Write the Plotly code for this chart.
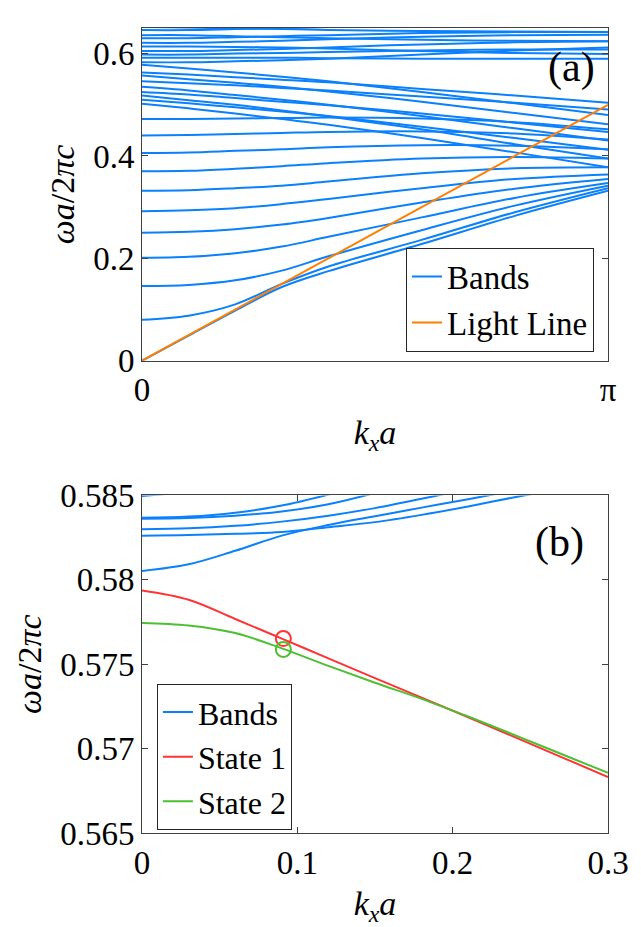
import numpy as np
import plotly.graph_objects as go

PI = np.pi

# ---------------- Panel (a) data ----------------
ka_frac = [0, 0.1, 0.2, 0.3, 0.4, 0.6, 0.8, 1.0]          # k_x a / pi
rising_bands = [
    [0.000, 0.049, 0.098, 0.144, 0.175, 0.228, 0.283, 0.332],
    [0.080, 0.088, 0.110, 0.150, 0.184, 0.236, 0.290, 0.337],
    [0.146, 0.148, 0.157, 0.176, 0.204, 0.255, 0.303, 0.342],
    [0.201, 0.203, 0.210, 0.223, 0.242, 0.280, 0.318, 0.347],
    [0.250, 0.252, 0.257, 0.266, 0.279, 0.309, 0.336, 0.355],
    [0.292, 0.294, 0.298, 0.306, 0.316, 0.337, 0.355, 0.364],
    [0.332, 0.333, 0.337, 0.342, 0.350, 0.366, 0.376, 0.378],
    [0.370, 0.371, 0.375, 0.380, 0.386, 0.395, 0.398, 0.395],
    [0.406, 0.407, 0.410, 0.413, 0.417, 0.421, 0.420, 0.413],
    [0.440, 0.441, 0.443, 0.445, 0.447, 0.448, 0.444, 0.432],
    [0.472, 0.472, 0.473, 0.474, 0.475, 0.473, 0.466, 0.452],
]
descending_bands = [
    [0.578, 0.571, 0.563, 0.555, 0.546, 0.525, 0.503, 0.480],
    [0.563, 0.559, 0.554, 0.549, 0.544, 0.531, 0.518, 0.504],
    [0.557, 0.550, 0.543, 0.535, 0.526, 0.506, 0.484, 0.462],
    [0.546, 0.542, 0.538, 0.533, 0.528, 0.516, 0.504, 0.491],
    [0.535, 0.528, 0.519, 0.510, 0.500, 0.478, 0.454, 0.430],
    [0.525, 0.520, 0.513, 0.506, 0.499, 0.483, 0.465, 0.447],
    [0.518, 0.509, 0.500, 0.489, 0.477, 0.452, 0.423, 0.395],
    [0.510, 0.503, 0.495, 0.487, 0.478, 0.457, 0.435, 0.412],
    [0.502, 0.493, 0.483, 0.472, 0.461, 0.435, 0.407, 0.378],
]
upper_bands = [
    [0.583, 0.583, 0.585, 0.587, 0.590, 0.598, 0.606, 0.612],
    [0.592, 0.592, 0.592, 0.592, 0.591, 0.590, 0.590, 0.590],
    [0.598, 0.598, 0.600, 0.601, 0.603, 0.606, 0.608, 0.608],
    [0.605, 0.605, 0.607, 0.609, 0.612, 0.618, 0.622, 0.624],
    [0.614, 0.614, 0.613, 0.612, 0.610, 0.605, 0.601, 0.599],
    [0.621, 0.621, 0.623, 0.625, 0.628, 0.633, 0.636, 0.637],
    [0.630, 0.630, 0.632, 0.634, 0.636, 0.640, 0.642, 0.642],
    [0.636, 0.636, 0.634, 0.632, 0.630, 0.627, 0.625, 0.624],
    [0.646, 0.646, 0.648, 0.650, 0.652, 0.657, 0.660, 0.662],
    [0.652, 0.651, 0.649, 0.648, 0.646, 0.644, 0.643, 0.642],
]
light_k = [0, PI]
light_w = [0, 0.5]

# ---------------- Panel (b) data ----------------
kb = [0.00, 0.03, 0.06, 0.09, 0.12, 0.15, 0.18, 0.21, 0.24, 0.27, 0.30]
zoom_bands = [
    [0.58497, 0.58520],
    [0.58368, 0.58375, 0.58398, 0.58440, 0.58505, 0.58580],
    [0.58362, 0.58366, 0.58380, 0.58405, 0.58448, 0.58515],
    [0.58300, 0.58305, 0.58320, 0.58345, 0.58380, 0.58425, 0.58480, 0.58540],
    [0.58262, 0.58265, 0.58273, 0.58283, 0.58312, 0.58342, 0.58385, 0.58435, 0.58490, 0.58540],
    [0.58053, 0.58092, 0.58172, 0.58262, 0.58325, 0.58377, 0.58428, 0.58478, 0.58530],
]
state1 = [0.57937, 0.57882, 0.57768, 0.57652, 0.57535, 0.57418, 0.57302, 0.57186, 0.57068, 0.56950, 0.56832]
state2 = [0.57745, 0.57730, 0.57685, 0.57594, 0.57490, 0.57390, 0.57295, 0.57190, 0.57080, 0.56968, 0.56856]
mark_k = [0.091]
mark_s1 = [0.57652]
mark_s2 = [0.57588]

BLUE = '#0A80FF'
ORANGE = '#FF8000'
RED = '#FF3333'
GREEN = '#4DBF33'
FONT = '"Liberation Serif", "Times New Roman", serif'

fig = go.Figure()

ka = [f * PI for f in ka_frac]
first = True
for band in rising_bands + descending_bands + upper_bands:
    fig.add_trace(go.Scatter(x=ka, y=band, mode='lines', line=dict(color=BLUE, width=2, shape='spline'),
                             name='Bands', showlegend=first, legendgroup='a_bands',
                             xaxis='x', yaxis='y', legend='legend', hoverinfo='skip'))
    first = False
fig.add_trace(go.Scatter(x=light_k, y=light_w, mode='lines', line=dict(color=ORANGE, width=2),
                         name='Light Line', xaxis='x', yaxis='y', legend='legend'))

first = True
for band in zoom_bands:
    fig.add_trace(go.Scatter(x=kb[:len(band)], y=band, mode='lines',
                             line=dict(color=BLUE, width=2, shape='spline'),
                             name='Bands', showlegend=first, legendgroup='b_bands',
                             xaxis='x2', yaxis='y2', legend='legend2'))
    first = False
fig.add_trace(go.Scatter(x=kb, y=state1, mode='lines', line=dict(color=RED, width=2, shape='spline'),
                         name='State 1', xaxis='x2', yaxis='y2', legend='legend2'))
fig.add_trace(go.Scatter(x=kb, y=state2, mode='lines', line=dict(color=GREEN, width=2, shape='spline'),
                         name='State 2', xaxis='x2', yaxis='y2', legend='legend2'))
fig.add_trace(go.Scatter(x=mark_k, y=mark_s1, mode='markers', showlegend=False,
                         marker=dict(symbol='circle-open', size=15, color=RED, line=dict(width=2, color=RED)),
                         xaxis='x2', yaxis='y2'))
fig.add_trace(go.Scatter(x=mark_k, y=mark_s2, mode='markers', showlegend=False,
                         marker=dict(symbol='circle-open', size=15, color=GREEN, line=dict(width=2, color=GREEN)),
                         xaxis='x2', yaxis='y2'))

axis_common = dict(showline=True, linecolor='#404040', linewidth=1, mirror='ticks', ticks='inside',
                   ticklen=6, tickcolor='#404040', showgrid=False, zeroline=False,
                   tickfont=dict(family=FONT, size=33, color='black'))

fig.update_layout(
    width=641, height=927,
    margin=dict(l=142, r=33, t=11, b=86),
    paper_bgcolor='white', plot_bgcolor='white',
    font=dict(family=FONT, color='black'),
    xaxis=dict(domain=[0, 1], range=[0, PI], anchor='y', tickvals=[0, PI], ticktext=['0', 'π'],
               title=dict(text='<i>k<sub>x</sub>a</i>', font=dict(family=FONT, size=34), standoff=12),
               **axis_common),
    yaxis=dict(domain=[0.5867, 1], range=[0, 0.65], anchor='x', tickvals=[0, 0.2, 0.4, 0.6],
               ticktext=['0', '0.2', '0.4', '0.6'],
               title=dict(text='<i>ωa</i>/2<i>πc</i>', font=dict(family=FONT, size=34), standoff=8),
               **axis_common),
    xaxis2=dict(domain=[0, 1], range=[0, 0.3], anchor='y2', tickvals=[0, 0.1, 0.2, 0.3],
                ticktext=['0', '0.1', '0.2', '0.3'],
                title=dict(text='<i>k<sub>x</sub>a</i>', font=dict(family=FONT, size=34), standoff=12),
                **axis_common),
    yaxis2=dict(domain=[0, 0.4193], range=[0.565, 0.585], anchor='x2',
                tickvals=[0.565, 0.57, 0.575, 0.58, 0.585],
                ticktext=['0.565', '0.57', '0.575', '0.58', '0.585'],
                title=dict(text='<i>ωa</i>/2<i>πc</i>', font=dict(family=FONT, size=34), standoff=8),
                **axis_common),
    legend=dict(x=0.970, xanchor='right', y=0.598, yanchor='bottom', bordercolor='#262626',
                borderwidth=1, bgcolor='white', font=dict(family=FONT, size=33), tracegroupgap=0),
    legend2=dict(x=0.032, xanchor='left', y=0.004, yanchor='bottom', bordercolor='#262626',
                 borderwidth=1, bgcolor='white', font=dict(family=FONT, size=32), tracegroupgap=0),
    annotations=[
        dict(text='(a)', xref='x domain', yref='y domain', x=0.976, y=0.880, xanchor='right',
             yanchor='middle', showarrow=False, font=dict(family=FONT, size=42)),
        dict(text='(b)', xref='x2 domain', yref='y2 domain', x=0.9526, y=0.860, xanchor='right',
             yanchor='middle', showarrow=False, font=dict(family=FONT, size=42)),
    ],
)

fig.write_html('out.html')
